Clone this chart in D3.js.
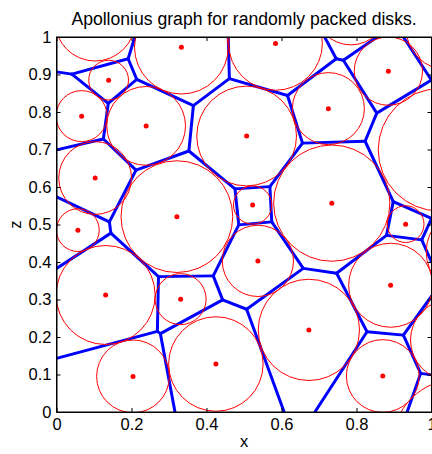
<!DOCTYPE html>
<html>
<head>
<meta charset="utf-8">
<title>Apollonius graph for randomly packed disks</title>
<style>
    body { margin: 0; background: #fff; }
    svg text { font-family: "Liberation Sans", Arial, sans-serif; fill: #000; }
    .axis text { font-size: 16.5px; }
    .axis path, .axis line { stroke: #000; }
</style>
</head>
<body>
<svg id="chart"></svg>
<script src="https://d3js.org/d3.v7.min.js"></script>
<script>
// packed disks (centre x, centre y, radius); the last few sit partly outside the box
var diskX = [0.333, 0.584, 0.885, 0.725, 0.507, 0.239, 0.067, 0.139, 0.103, 0.103, 0.057, 0.321, 0.331, 0.131, 0.204, 0.425, 0.537, 0.673, 0.891, 0.870, 0.931, 0.734, 0.523, 1.021, 0.785, 1.044, 1.103, 1.052, 1.071];
var diskY = [0.973, 0.983, 0.909, 0.809, 0.736, 0.763, 0.789, 0.885, 1.043, 0.624, 0.485, 0.521, 0.301, 0.312, 0.095, 0.128, 0.403, 0.219, 0.338, 0.096, 0.501, 0.557, 0.552, 0.699, 1.076, 1.024, 0.427, 0.192, -0.088];
var diskR = [0.125, 0.125, 0.091, 0.096, 0.133, 0.105, 0.068, 0.053, 0.107, 0.097, 0.057, 0.149, 0.068, 0.132, 0.097, 0.126, 0.095, 0.135, 0.112, 0.097, 0.049, 0.155, 0.051, 0.163, 0.097, 0.112, 0.117, 0.108, 0.176];

// Apollonius graph vertices (last ones lie on the box border)
var nodeX = [0.041, 0.191, 0.214, 0.138, 0.365, 0.461, 0.616, 0.746, 0.656, 0.765,
             0.854, 0.823, 0.898, 0.569, 0.476, 0.353, 0.486, 0.574, 0.658, 0.747,
             0.507, 0.880, 0.828, 0.925, 0.971, 0.974, 1.0, 0.212, 0.125, 0.141,
             0.145, 0.272, 0.418, 0.269, 0.443, 0.277, 1.0,
             0.209, 0.458, 0.715, 0.855, 0.925, 1.0, 1.0, 1.0, 0.316, 0.607, 0.689, 0.935,
             0, 0, 0, 0, 0];
var nodeY = [0.901, 0.942, 0.887, 0.823, 0.817, 0.889, 0.844, 0.942, 0.717, 0.938,
             0.797, 0.722, 0.561, 0.601, 0.595, 0.696, 0.499, 0.507, 0.383, 0.370,
             0.274, 0.471, 0.214, 0.205, 0.103, 0.459, 0.516, 0.645, 0.728, 0.507,
             0.477, 0.361, 0.363, 0.215, 0.299, 0.209, 0.885,
             1, 1, 1, 1, 1, 0.400, 0.309, 0.099, 0, 0, 0, 0,
             0.907, 0.699, 0.574, 0.383, 0.143];
var edges = [[49,0],[0,1],[1,37],[1,2],[0,3],[2,3],[2,4],[4,5],[5,38],[5,6],
             [6,7],[7,39],[7,9],[9,40],[9,10],[10,36],[41,36],[6,8],[8,11],[11,10],
             [11,12],[12,26],[12,21],[21,25],[25,26],[25,42],[8,13],[13,14],[14,15],[15,4],
             [15,27],[27,28],[28,3],[28,50],[27,29],[29,51],[29,30],[30,52],[30,31],[31,32],
             [31,33],[33,53],[33,35],[35,34],[35,45],[34,32],[34,20],[32,16],[16,14],[16,17],
             [17,13],[17,18],[18,19],[18,20],[20,46],[19,21],[19,22],[22,23],[22,47],[23,43],
             [23,24],[24,44],[24,48]];

var xTicks = [0, 0.2, 0.4, 0.6, 0.8, 1];
var xTickLabels = ['0', '0.2', '0.4', '0.6', '0.8', '1'];
var yTicks = [0, 0.1, 0.2, 0.3, 0.4, 0.5, 0.6, 0.7, 0.8, 0.9, 1];
var yTickLabels = ['0', '0.1', '0.2', '0.3', '0.4', '0.5', '0.6', '0.7', '0.8', '0.9', '1'];

var width = 432, height = 454;
var plotLeft = 56.5, plotTop = 37, plotSize = 375;

var svg = d3.select('#chart')
    .attr('width', width)
    .attr('height', height);

var x = d3.scaleLinear().domain([0, 1]).range([plotLeft, plotLeft + plotSize]);
var y = d3.scaleLinear().domain([0, 1]).range([plotTop + plotSize, plotTop]);

svg.append('defs').append('clipPath').attr('id', 'plotClip')
    .append('rect')
    .attr('x', plotLeft).attr('y', plotTop)
    .attr('width', plotSize).attr('height', plotSize);

var plot = svg.append('g').attr('clip-path', 'url(#plotClip)');

// graph edges
plot.selectAll('line.edge').data(edges).enter()
    .append('line')
    .attr('class', 'edge')
    .attr('x1', function(e) { return x(nodeX[e[0]]); })
    .attr('y1', function(e) { return y(nodeY[e[0]]); })
    .attr('x2', function(e) { return x(nodeX[e[1]]); })
    .attr('y2', function(e) { return y(nodeY[e[1]]); })
    .style('stroke', '#0000ff')
    .style('stroke-width', 3)
    .style('stroke-linecap', 'round');

var idx = diskX.map(function(d, i) { return i; });

// disks
plot.selectAll('circle.disk').data(idx).enter()
    .append('circle')
    .attr('class', 'disk')
    .attr('cx', function(i) { return x(diskX[i]); })
    .attr('cy', function(i) { return y(diskY[i]); })
    .attr('r', function(i) { return x(diskR[i]) - x(0); })
    .style('fill', 'none')
    .style('stroke', '#ff0000')
    .style('stroke-width', 1);

// centres
plot.selectAll('circle.centre').data(idx).enter()
    .append('circle')
    .attr('class', 'centre')
    .attr('cx', function(i) { return x(diskX[i]); })
    .attr('cy', function(i) { return y(diskY[i]); })
    .attr('r', 2.5)
    .style('fill', '#ff0000');

// axes, ticks pointing inwards on all four sides
svg.append('g').attr('class', 'axis')
    .attr('transform', 'translate(0,' + (plotTop + plotSize) + ')')
    .call(d3.axisBottom(x).tickValues(xTicks)
        .tickFormat(function(d, i) { return xTickLabels[i]; })
        .tickSizeInner(-4).tickSizeOuter(0).tickPadding(6));

svg.append('g').attr('class', 'axis')
    .attr('transform', 'translate(0,' + plotTop + ')')
    .call(d3.axisTop(x).tickValues(xTicks).tickFormat('')
        .tickSizeInner(-4).tickSizeOuter(0));

svg.append('g').attr('class', 'axis')
    .attr('transform', 'translate(' + plotLeft + ',0)')
    .call(d3.axisLeft(y).tickValues(yTicks)
        .tickFormat(function(d, i) { return yTickLabels[i]; })
        .tickSizeInner(-4).tickSizeOuter(0).tickPadding(5));

svg.append('g').attr('class', 'axis')
    .attr('transform', 'translate(' + (plotLeft + plotSize) + ',0)')
    .call(d3.axisRight(y).tickValues(yTicks).tickFormat('')
        .tickSizeInner(-4).tickSizeOuter(0));

svg.append('rect')
    .attr('x', plotLeft).attr('y', plotTop)
    .attr('width', plotSize).attr('height', plotSize)
    .style('fill', 'none')
    .style('stroke', '#000')
    .style('stroke-width', 1);

svg.append('text')
    .attr('x', plotLeft + plotSize / 2)
    .attr('y', 25)
    .attr('text-anchor', 'middle')
    .style('font-size', '17.6px')
    .text('Apollonius graph for randomly packed disks.');

svg.append('text')
    .attr('x', plotLeft + plotSize / 2)
    .attr('y', 447)
    .attr('text-anchor', 'middle')
    .style('font-size', '16.5px')
    .text('x');

svg.append('text')
    .attr('transform', 'translate(20.5,' + (plotTop + plotSize / 2) + ') rotate(-90)')
    .attr('text-anchor', 'middle')
    .style('font-size', '16.5px')
    .text('z');
</script>
</body>
</html>
